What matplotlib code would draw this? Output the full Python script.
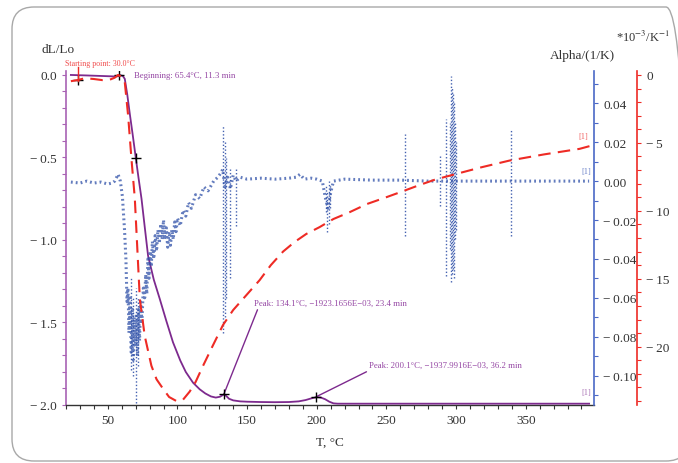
import matplotlib
matplotlib.use("Agg")
import matplotlib.pyplot as plt
import matplotlib.transforms as mtransforms
from matplotlib.patches import FancyBboxPatch
from matplotlib.ticker import MultipleLocator, FuncFormatter

plt.rcParams['font.family'] = ['Liberation Serif', 'DejaVu Serif']
plt.rcParams['mathtext.fontset'] = 'stix'

# ---------------- data ----------------
# dL/Lo (left axis)
dl_T = [23.5, 35, 45, 55, 57.2, 58.1, 60.8, 62.2, 64.0, 65.8, 68.0, 70.1, 72.0, 74.2,
        76.5, 78.9, 83, 87.3, 92, 96.8, 102, 106, 111.2, 116, 120, 124, 127.5, 130.5,
        132.5, 133.5, 135, 137, 140, 145, 150, 160, 170, 180, 187, 192, 196, 200, 203,
        206, 209, 212, 215, 250, 300, 350, 395.5]
dl_val = [0.0, -0.003, -0.006, -0.009, -0.008, 0.0, -0.006, -0.024, -0.12, -0.236, -0.37,
          -0.503, -0.62, -0.75, -0.92, -1.095, -1.24, -1.357, -1.49, -1.62, -1.73, -1.80,
          -1.865, -1.905, -1.93, -1.948, -1.955, -1.95, -1.94, -1.935, -1.945, -1.962,
          -1.972, -1.978, -1.98, -1.982, -1.983, -1.982, -1.978, -1.97, -1.96, -1.952,
          -1.955, -1.965, -1.98, -1.99, -1.992, -1.992, -1.992, -1.992, -1.992]

# CTE, *10^-3/K^-1 (red axis)
cte_T = [23.5, 28.7, 33.5, 40, 46, 51.4, 55, 57.4, 60, 62.2, 64.6, 67.0, 69.4, 73, 76.5,
         81.3, 85, 89.7, 94, 99.3, 104, 108.8, 113, 118.4, 125, 132.7, 140, 149.5, 159,
         167, 175.8, 184, 192.5, 202, 212, 223.6, 236, 249.9, 262, 273.8, 285, 297.7,
         318, 338.4, 363, 388.6, 395.8]
cte_val = [-0.46, -0.37, -0.24, -0.30, -0.38, -0.35, -0.20, 0.0, -0.15, -0.54, -3.0, -6.2,
           -9.1, -16.5, -19.2, -21.4, -22.4, -23.1, -23.7, -24.0, -23.9, -23.3, -22.6,
           -21.4, -20.0, -18.4, -17.3, -16.2, -15.1, -14.0, -13.0, -12.3, -11.7, -11.2,
           -10.6, -10.1, -9.5, -9.0, -8.55, -8.1, -7.7, -7.35, -6.8, -6.3, -5.85, -5.44,
           -5.24]

# Alpha/(1/K) (blue axis) - noisy trace, scatter band
alpha_T = [23.5, 30, 35, 40, 45, 50, 53, 55, 57.4, 59, 60.5, 62, 63.0, 63.8, 64.5, 65.2,
           66.0, 66.8, 67.5, 68.2, 69.0, 69.8, 70.5, 71.3, 72.0, 72.8, 73.5, 74.5, 75.5,
           76.5, 77.2, 78.0, 78.8, 79.6, 80.4, 81.2, 82.0, 83, 84, 85, 86, 87, 88, 89,
           90, 91, 92, 93, 94, 95, 96, 97, 98, 99, 100, 102, 104, 106, 108, 110, 113,
           116, 119, 122, 126, 129, 131, 132.5, 134, 136, 138, 140, 142, 145, 150, 160,
           170, 180, 185, 188, 191, 196, 200, 204, 206, 208, 210, 212, 220, 240, 260,
           280, 300, 320, 340, 360, 380, 395.5]
alpha_val = [-0.0005, -0.001, 0.0, -0.001, -0.0005, -0.0015, -0.001, 0.0, 0.0035, 0.0,
             -0.008, -0.025, -0.040, -0.062, -0.055, -0.078, -0.060, -0.088, -0.065,
             -0.092, -0.070, -0.085, -0.068, -0.090, -0.066, -0.082, -0.062, -0.072,
             -0.055, -0.060, -0.048, -0.058, -0.040, -0.050, -0.036, -0.044, -0.031,
             -0.040, -0.028, -0.036, -0.025, -0.032, -0.022, -0.030, -0.020, -0.030,
             -0.024, -0.034, -0.026, -0.033, -0.025, -0.030, -0.021, -0.026, -0.019,
             -0.023, -0.015, -0.018, -0.011, -0.014, -0.007, -0.009, -0.003, -0.005,
             0.0, 0.002, 0.004, 0.006, -0.003, 0.002, -0.004, 0.003, 0.000, 0.002,
             0.001, 0.0015, 0.001, 0.0015, 0.002, 0.0035, 0.001, 0.0015, 0.001, 0.0,
             -0.008, -0.014, -0.006, 0.0, 0.001, 0.0005, 0.0005, 0.0, 0.0, 0.0, 0.0,
             0.0, 0.0, 0.0]

# spikes in the alpha signal
spike_T = [66.5, 68.0, 70.0, 71.5, 132.9, 133.8, 135.0, 137.5, 142.3, 206.5, 207.5, 208.5,
           209.5, 263.0, 288.2, 292.5, 295.8, 296.5, 297.2, 297.9, 298.6, 299.3, 300.0,
           339.6]
spike_hi = [-0.050, -0.060, -0.055, -0.060, 0.029, 0.020, 0.012, 0.006, 0.006, -0.002,
            -0.005, 0.0, -0.002, 0.024, 0.013, 0.032, 0.030, 0.054, 0.048, 0.045, 0.040,
            0.030, 0.020, 0.027]
spike_lo = [-0.097, -0.100, -0.114, -0.095, -0.078, -0.070, -0.060, -0.050, -0.023,
            -0.016, -0.026, -0.022, -0.014, -0.028, -0.013, -0.049, -0.035, -0.052,
            -0.048, -0.045, -0.050, -0.030, -0.025, -0.028]

# marked points
start_T, start_val = 28.7, -0.37
begin_T, begin_val = 58.1, 0.0
mid_T, mid_val = 70.1, -0.503
peak1_T, peak1_val = 133.3, -1.935
peak2_T, peak2_val = 199.6, -1.950

x_ticks = [50, 100, 150, 200, 250, 300, 350]

# ---------------- colours ----------------
PURPLE = '#7d2a8e'
PURPLE_TXT = '#9445a3'
PURPLE_AX = '#a862b4'
RED = '#ee2b25'
RED_TXT = '#f04a4a'
BLUE = '#2f50a8'
BLUE_AX = '#4a68c6'
TXT = '#333333'


def signed(fmt):
    def f(v, pos):
        s = fmt % abs(v)
        if v < 0 and float(s) != 0:
            return '\u2212\u2009' + s
        return s
    return FuncFormatter(f)


# ---------------- figure ----------------
W, H = 678, 464
fig = plt.figure(figsize=(W / 100, H / 100), dpi=100)

# outer rounded frame
frame = FancyBboxPatch((12, 2), 676, 454, boxstyle="round,pad=0,rounding_size=22",
                       transform=mtransforms.IdentityTransform(), fill=False,
                       edgecolor='#a8a8a8', linewidth=1.0)
fig.add_artist(frame)

L, R, B, T = 66, 594, 406, 72
ax = fig.add_axes([L / W, 1 - B / H, (R - L) / W, (B - T) / H])
ax.patch.set_alpha(0)
axb = ax.twinx()
axr = ax.twinx()

FS = 9.5

# host axis
ax.set_xlim(20, 399)
ax.set_ylim(-2.0, 0.024)
for s in ['top', 'right']:
    ax.spines[s].set_visible(False)
ax.spines['left'].set_color(PURPLE_AX)
ax.spines['left'].set_linewidth(1.2)
ax.spines['bottom'].set_color(TXT)
ax.spines['bottom'].set_linewidth(1.0)
ax.set_xticks(x_ticks)
ax.xaxis.set_minor_locator(MultipleLocator(10))
ax.yaxis.set_major_locator(MultipleLocator(0.5))
ax.yaxis.set_minor_locator(MultipleLocator(0.1))
ax.yaxis.set_major_formatter(signed('%.1f'))
ax.tick_params(axis='both', which='both', direction='out', length=3, width=0.8,
               labelsize=FS, colors=TXT)
ax.tick_params(axis='y', which='both', color=PURPLE_AX)
ax.tick_params(axis='y', labelcolor=TXT)
ax.set_xlabel('T, °C', fontsize=FS, color=TXT, labelpad=7)

# blue axis
axb.set_ylim(-0.1151, 0.0566)
for s in ['top', 'left', 'bottom']:
    axb.spines[s].set_visible(False)
axb.spines['right'].set_color(BLUE_AX)
axb.spines['right'].set_linewidth(1.2)
axb.yaxis.set_major_locator(MultipleLocator(0.02))
axb.yaxis.set_minor_locator(MultipleLocator(0.01))
axb.yaxis.set_major_formatter(signed('%.2f'))
axb.tick_params(axis='y', which='both', direction='out', length=3, width=0.8,
                color=BLUE_AX, labelsize=FS, labelcolor=TXT)

# red axis
axr.set_ylim(-24.29, 0.29)
for s in ['top', 'left', 'bottom']:
    axr.spines[s].set_visible(False)
axr.spines['right'].set_position(('axes', 1 + 43 / (R - L)))
axr.spines['right'].set_color(RED)
axr.spines['right'].set_linewidth(1.2)
axr.yaxis.set_major_locator(MultipleLocator(5))
axr.yaxis.set_minor_locator(MultipleLocator(1))
axr.yaxis.set_major_formatter(signed('%d'))
axr.tick_params(axis='y', which='both', direction='out', length=3, width=0.8,
                color=RED, labelsize=FS, labelcolor=TXT)

# ---------------- curves ----------------
axb.plot(alpha_T, alpha_val, linestyle=(0, (0.6, 1.0)), color=BLUE, linewidth=2.2,
         alpha=0.75, zorder=2)
axb.vlines(spike_T, spike_lo, spike_hi, colors=BLUE, linestyles=(0, (1, 1.5)),
           linewidth=1.0, alpha=0.9, zorder=2)

ax.plot(dl_T, dl_val, color=PURPLE, linewidth=1.3, zorder=3)

axr.plot(cte_T, cte_val, color=RED, linewidth=1.5, dashes=(6, 3.5), zorder=4)

# markers
axr.plot([start_T], [start_val], marker='+', color='black', markersize=7, mew=1.0)
axr.plot([start_T, start_T], [0.6, -0.45], color=RED, linewidth=1.0, clip_on=False)
ax.plot([begin_T, mid_T, peak1_T, peak2_T], [begin_val, mid_val, peak1_val, peak2_val],
        linestyle='none', marker='+', color='black', markersize=7, mew=1.0, zorder=5)

# ---------------- annotations ----------------
AFS = 6.3
ax.annotate('Starting point: 30.0°C', xy=(65, H - 64), xycoords='figure pixels',
            fontsize=5.7, color=RED_TXT, ha='left', va='center')
ax.annotate('Beginning: 65.4°C, 11.3 min', xy=(134, H - 76), xycoords='figure pixels',
            fontsize=AFS, color=PURPLE_TXT, ha='left', va='center')
ax.annotate('Peak: 134.1°C, \u22121923.1656E\u221203, 23.4 min', xy=(peak1_T, peak1_val),
            xytext=(254, H - 304), textcoords='figure pixels', fontsize=AFS,
            color=PURPLE_TXT, ha='left', va='center',
            arrowprops=dict(arrowstyle='-', color=PURPLE, lw=1.0,
                            shrinkA=0, shrinkB=0, relpos=(0.03, 0.0)))
ax.annotate('Peak: 200.1°C, \u22121937.9916E\u221203, 36.2 min', xy=(peak2_T, peak2_val),
            xytext=(369, H - 366), textcoords='figure pixels', fontsize=AFS,
            color=PURPLE_TXT, ha='left', va='center',
            arrowprops=dict(arrowstyle='-', color=PURPLE, lw=1.0,
                            shrinkA=0, shrinkB=0, relpos=(0.02, 0.0)))

# series end labels
fig.text(583 / W, 1 - 137 / H, '[1]', fontsize=6, color='#f06060', ha='center', va='center')
fig.text(586 / W, 1 - 172 / H, '[1]', fontsize=6, color='#6a80c8', ha='center', va='center')
fig.text(586 / W, 1 - 393 / H, '[1]', fontsize=6, color='#a870b4', ha='center', va='center')

# axis titles
fig.text(58 / W, 1 - 50 / H, 'dL/Lo', fontsize=FS, color=TXT, ha='center', va='center')
fig.text(582 / W, 1 - 56 / H, 'Alpha/(1/K)', fontsize=FS, color=TXT,
         ha='center', va='center')
fig.text(643 / W, 1 - 37 / H, r'*10$^{-3}$/K$^{-1}$', fontsize=FS - 0.5, color=TXT,
         ha='center', va='center')

fig.savefig('out.png', dpi=100)
